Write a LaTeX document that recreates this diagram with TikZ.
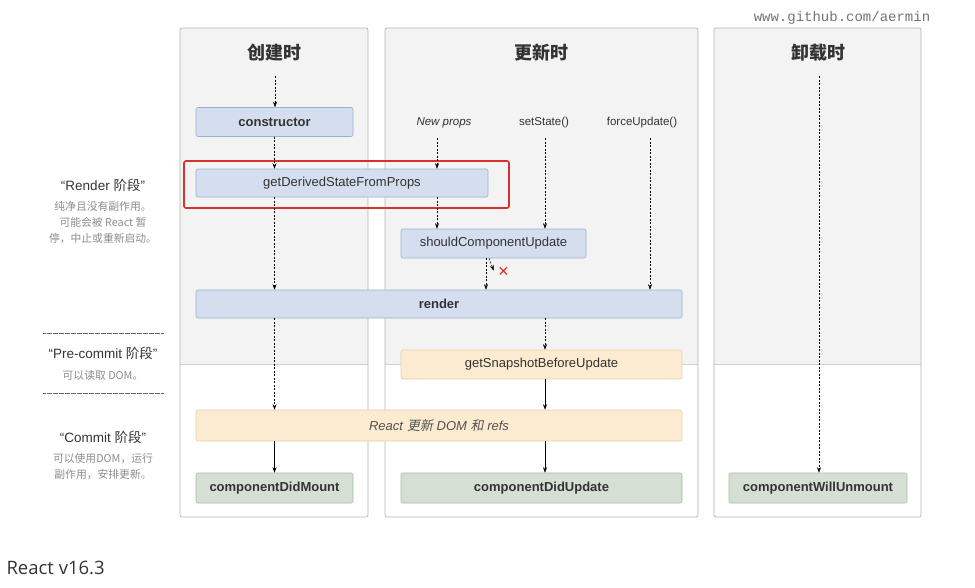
\documentclass[tikz,border=0pt]{standalone}
\usepackage{fontspec}
\setmainfont{Liberation Sans}
\newfontfamily\cjk{Noto Sans CJK SC}
\newfontfamily\cjkit{Noto Sans CJK SC}[FakeSlant=0.2]
\newfontfamily\markfont{Liberation Mono}
\newfontfamily\vfont{Open Sans}
\newfontfamily\symfont{DejaVu Sans}
\usetikzlibrary{arrows.meta, positioning}

\definecolor{colfill}{HTML}{F3F3F3}
\definecolor{colline}{HTML}{B3B3B3}
\definecolor{bfill}{HTML}{D4DEEE}
\definecolor{bline}{HTML}{9DB0CC}
\definecolor{ofill}{HTML}{FCEBD0}
\definecolor{oline}{HTML}{E6CFA8}
\definecolor{gfill}{HTML}{D5DFD4}
\definecolor{gline}{HTML}{A9BAA8}
\definecolor{txt}{HTML}{333333}
\definecolor{notec}{HTML}{8C8C8C}
\definecolor{redc}{HTML}{D6312B}

\begin{document}
\begin{tikzpicture}[x=1pt, y=-1pt, >={Stealth[length=5.5pt, width=4pt]},
  box/.style={draw, rounded corners=2pt, line width=0.6pt, inner sep=0pt,
    minimum height=29pt, text=txt, font=\fontsize{13}{15}\selectfont},
  bluebox/.style={box, fill=bfill, draw=bline},
  orangebox/.style={box, fill=ofill, draw=oline},
  greenbox/.style={box, fill=gfill, draw=gline, font=\fontsize{13}{15}\selectfont\bfseries},
  title/.style={text=txt, font=\cjk\bfseries\fontsize{18}{20}\selectfont},
  event/.style={text=txt, font=\fontsize{11.5}{13}\selectfont},
  phase/.style={text=txt, font=\fontsize{13.5}{16}\selectfont},
  note/.style={text=notec, align=center, font=\cjk\fontsize{10.8}{16}\selectfont},
  flow/.style={->, line width=0.5pt, dash pattern=on 2pt off 1.5pt},
  solidflow/.style={->, line width=0.6pt},
  sep/.style={line width=1pt, dash pattern=on 0.6pt off 0.6pt, black!60}]
  \useasboundingbox (0,0) rectangle (975,587);

  % columns
  \foreach \l/\r in {180/368, 385/698, 714/921} {
    \fill[colfill] (\l,28) rectangle (\r,364);
    \draw[colline!60, line width=0.5pt] (\l,364) -- (\r,364);
    \draw[colline, line width=0.7pt, rounded corners=2pt] (\l,28) rectangle (\r,517);
  }

  \node[title] (mount) at (274,53) {创建时};
  \node[title] (update) at (541,53) {更新时};
  \node[title] (unmount) at (818,53) {卸载时};

  \node[event, font=\itshape\fontsize{11.5}{13}\selectfont] (np) at (444,123) {New props};
  \node[event] (ss) at (544,123) {setState()};
  \node[event] (fu) at (642,123) {forceUpdate()};

  % lifecycle boxes
  \node[bluebox, minimum width=157pt, font=\fontsize{13}{15}\selectfont\bfseries] (ctor) at (274.5,122) {constructor};
  \node[draw=redc, line width=1.6pt, rounded corners=2pt, minimum width=325pt, minimum height=47pt] (hl) at (346.5,184.5) {};
  \node[bluebox, minimum width=292pt, minimum height=28pt] (gdsfp) at (342,183) {getDerivedStateFromProps};
  \node[bluebox, minimum width=185pt] (scu) at (493.5,243.5) {shouldComponentUpdate};
  \node[bluebox, minimum width=486pt, minimum height=28pt, font=\fontsize{13}{15}\selectfont\bfseries] (render) at (439,304) {render};
  \node[orangebox, minimum width=281pt] (snap) at (541.5,364.5) {getSnapshotBeforeUpdate};
  \node[orangebox, minimum width=486pt, minimum height=31pt, text=txt!85] (dom) at (439,425.5)
    {\textit{React} {\cjkit 更新} \textit{DOM} {\cjkit 和} \textit{refs}};
  \node[greenbox, minimum width=157pt, minimum height=30pt] (cdm) at (274.5,488) {componentDidMount};
  \node[greenbox, minimum width=281pt, minimum height=30pt] (cdu) at (541.5,488) {componentDidUpdate};
  \node[greenbox, minimum width=178pt, minimum height=30pt] (cwu) at (818,488) {componentWillUnmount};

  \coordinate (m0) at (275,76);
  \coordinate (u1) at (437,138);
  \coordinate (u2) at (545,138);
  \coordinate (u3) at (650,138);
  \coordinate (u4) at (486,0);
  \coordinate (w0) at (819,76);

  % mounting
  \draw[flow] (m0) -- (m0 |- ctor.north);
  \draw[flow] (ctor.south) -- (ctor.south |- gdsfp.north);
  \draw[flow] (ctor.south |- gdsfp.south) -- (ctor.south |- render.north);
  \draw[flow] (ctor.south |- render.south) -- (ctor.south |- dom.north);
  \draw[solidflow] (ctor.south |- dom.south) -- (cdm.north);

  % updating
  \draw[flow] (u1) -- (u1 |- gdsfp.north);
  \draw[flow] (u1 |- gdsfp.south) -- (u1 |- scu.north);
  \draw[flow] (u2) -- (u2 |- scu.north);
  \draw[flow] (u3) -- (u3 |- render.north);
  \draw[flow] (u4 |- scu.south) -- (u4 |- render.north);
  \node[text=redc, font=\symfont\bfseries\fontsize{14}{15}\selectfont] (no) at (503.5,272) {✕};
  \draw[flow, shorten >=1.5pt] ([xshift=3pt]u4 |- scu.south) -- (no.west);
  \draw[flow] (u2 |- render.south) -- (u2 |- snap.north);
  \draw[solidflow] (u2 |- snap.south) -- (u2 |- dom.north);
  \draw[solidflow] (u2 |- dom.south) -- (u2 |- cdu.north);

  % unmounting
  \draw[flow] (w0) -- (w0 |- cwu.north);

  % phases
  \node[phase] (p1) at (103,185) {“Render {\cjk 阶段}”};
  \node[note] (n1) at (103,223) {纯净且没有副作用。\\可能会被 React 暂\\停，中止或重新启动。};
  \draw[sep] (43,333) -- (164,333);
  \node[phase] (p2) at (103,353) {“Pre-commit {\cjk 阶段}”};
  \node[note] (n2) at (103,375) {可以读取 DOM。};
  \draw[sep] (43,393) -- (164,393);
  \node[phase] (p3) at (103,437) {“Commit {\cjk 阶段}”};
  \node[note] (n3) at (103,467) {可以使用DOM，运行\\副作用，安排更新。};

  \node[text=black!55, font=\markfont\fontsize{14}{16}\selectfont] (wm) at (842,18) {www.github.com/aermin};
  \node[anchor=west, text=txt, font=\vfont\fontsize{18.5}{22}\selectfont] (ver) at (3,568) {React v16.3};
\end{tikzpicture}
\end{document}
